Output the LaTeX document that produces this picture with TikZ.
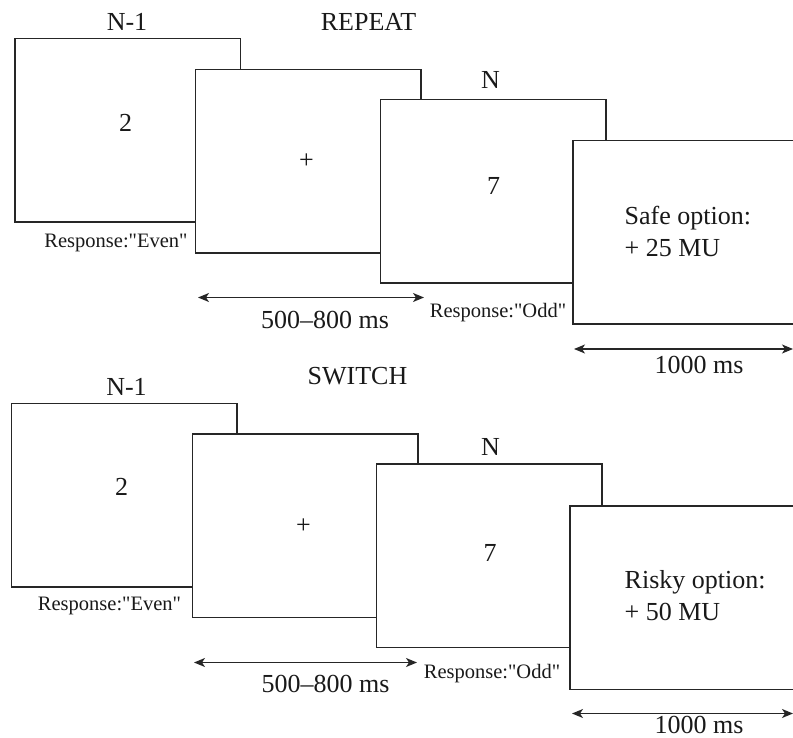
\documentclass[tikz,border=0pt]{standalone}
\usepackage{fontspec}
\setmainfont{Liberation Serif}[Ligatures=TeXOff]
\usetikzlibrary{arrows.meta}
\begin{document}
\begin{tikzpicture}[x=1pt,y=-1pt,
  screen/.style={draw=black!85, line width=1.4pt, fill=white, rectangle, inner sep=0pt, outer sep=0pt,
    anchor=north west, minimum width=225.5pt, minimum height=183.5pt},
  lastscreen/.style={screen, minimum width=240pt},
  big/.style={font=\fontsize{26}{30}\selectfont, text=black!90, inner sep=0pt, anchor=base},
  small/.style={font=\fontsize{20.5}{24}\selectfont, text=black!90, inner sep=0pt, anchor=base},
  span/.style={{Stealth[length=11pt,width=9pt,inset=3pt]}-{Stealth[length=11pt,width=9pt,inset=3pt]}, line width=1.3pt, draw=black!85}]
\path[use as bounding box] (0,0) rectangle (793,738);
\clip (0,0) rectangle (793,738);

% ---------- REPEAT ----------
\node[screen] (r1) at (15,38.5) {};
\node[screen] (r2) at (195.5,69.5) {};
\node[screen] (r3) at (380.5,99.5) {};
\node[lastscreen] (r4) at (573,140.5) {};

\node[big] (rn1) at (127,30.5) {N-1};
\node[big] (rtitle) at (368.5,30.5) {REPEAT};
\node[big] (rn) at (490.5,89) {N};
\node[big] (rtwo) at (125.5,131.5) {2};
\node[big, anchor=center] (rplus) at (306.5,161.5) {+};
\node[big] (rseven) at (493.5,195) {7};
\node[big, anchor=base west] (rsafe1) at (624.5,225) {Safe option:};
\node[big, anchor=base west] (rsafe2) at (624.5,256.5) {+ 25 MU};
\node[small] (reven) at (116,248) {Response:"Even"};
\node[small] (rodd) at (498,317) {Response:"Odd"};

\coordinate (ra1) at (198,297.5);
\coordinate (ra2) at (424,297.5);
\draw[span] (ra1) -- (ra2);
\node[big] (rt1) at (325,328.5) {500–800 ms};
\coordinate (rb1) at (574,349);
\coordinate (rb2) at (793,349);
\draw[span] (rb1) -- (rb2);
\node[big] (rt2) at (699,373.5) {1000 ms};

% ---------- SWITCH ----------
\node[screen] (s1) at (11.5,403.5) {};
\node[screen] (s2) at (192.5,434) {};
\node[screen] (s3) at (376.5,464) {};
\node[lastscreen] (s4) at (570,506) {};

\node[big] (sn1) at (126.5,395.5) {N-1};
\node[big] (stitle) at (357.5,384.5) {SWITCH};
\node[big] (sn) at (490.5,455) {N};
\node[big] (stwo) at (121.5,495.5) {2};
\node[big, anchor=center] (splus) at (303.5,526) {+};
\node[big] (sseven) at (490,561.5) {7};
\node[big, anchor=base west] (srisk1) at (624.5,588.5) {Risky option:};
\node[big, anchor=base west] (srisk2) at (624.5,620) {+ 50 MU};
\node[small] (seven) at (109.5,610) {Response:"Even"};
\node[small] (sodd) at (492,678.5) {Response:"Odd"};

\coordinate (sa1) at (194,662.5);
\coordinate (sa2) at (417,662.5);
\draw[span] (sa1) -- (sa2);
\node[big] (st1) at (325.5,692.5) {500–800 ms};
\coordinate (sb1) at (572,713.5);
\coordinate (sb2) at (793,713.5);
\draw[span] (sb1) -- (sb2);
\node[big] (st2) at (699,733.5) {1000 ms};
\end{tikzpicture}
\end{document}
